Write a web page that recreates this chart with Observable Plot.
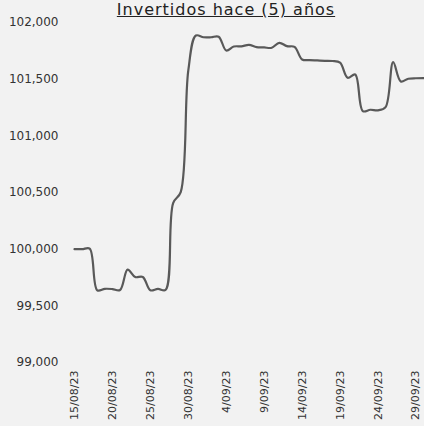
<!DOCTYPE html>
<html><head><meta charset="utf-8">
<script src="https://cdn.jsdelivr.net/npm/d3@7"></script>
<script src="https://cdn.jsdelivr.net/npm/@observablehq/plot@0.6"></script>
<style>
html,body{margin:0;padding:0;background:#f2f2f2;overflow:hidden;}
#wrap{position:relative;width:424px;height:426px;}
#title{position:absolute;top:1px;left:0;width:424px;font-family:"DejaVu Sans",sans-serif;font-size:16px;line-height:18px;letter-spacing:1px;text-align:center;text-decoration:underline;color:#222;padding-left:28px;box-sizing:border-box;white-space:nowrap;}
</style></head>
<body>
<div id="wrap">
<div id="chart"></div>
<div id="title">Invertidos hace (5) años</div>
</div>
<script>
const dates = ["2023-08-15","2023-08-16","2023-08-17","2023-08-18","2023-08-19","2023-08-20","2023-08-21","2023-08-22","2023-08-23","2023-08-24","2023-08-25","2023-08-26","2023-08-27","2023-08-28","2023-08-29","2023-08-30","2023-08-31","2023-09-01","2023-09-02","2023-09-03","2023-09-04","2023-09-05","2023-09-06","2023-09-07","2023-09-08","2023-09-09","2023-09-10","2023-09-11","2023-09-12","2023-09-13","2023-09-14","2023-09-15","2023-09-16","2023-09-17","2023-09-18","2023-09-19","2023-09-20","2023-09-21","2023-09-22","2023-09-23","2023-09-24","2023-09-25","2023-09-26","2023-09-27","2023-09-28","2023-09-29","2023-09-30"];
const values = [100000,100000,100005,99637,99650,99648,99640,99819,99754,99755,99637,99650,99640,100407,100504,101577,101885,101870,101870,101875,101753,101788,101790,101803,101782,101780,101777,101821,101791,101785,101674,101668,101665,101662,101660,101645,101512,101541,101218,101230,101225,101253,101650,101480,101504,101508,101509];
const xTicks = ["2023-08-15","2023-08-20","2023-08-25","2023-08-30","2023-09-04","2023-09-09","2023-09-14","2023-09-19","2023-09-24","2023-09-29"];
const yTicks = [99000,99500,100000,100500,101000,101500,102000];

const data = dates.map((d,i)=>({date:new Date(d), value:values[i]}));
const fmtDate = d => `${d.getUTCDate()}/${String(d.getUTCMonth()+1).padStart(2,"0")}/${String(d.getUTCFullYear()).slice(2)}`;
const fmtNum = v => d3.format(",")(v);

const chart = Plot.plot({
  width: 424,
  height: 426,
  marginTop: 22,
  marginBottom: 64,
  marginLeft: 74,
  marginRight: 1,
  style: {background:"#f2f2f2", fontFamily:"DejaVu Sans, sans-serif", fontSize:"11px", color:"#333"},
  x: {type:"utc", domain:[new Date(dates[0]), new Date(dates[dates.length-1])]},
  y: {domain:[99000,102000]},
  marks: [
    Plot.axisY({ticks:yTicks, tickFormat:fmtNum, tickSize:0, tickPadding:16, label:null, fontSize:12}),
    Plot.axisX({ticks:xTicks.map(d=>new Date(d)), tickFormat:fmtDate, tickSize:0, tickPadding:8, tickRotate:-90, label:null, fontSize:11}),
    Plot.line(data, {x:"date", y:"value", stroke:"#595959", strokeWidth:2.2, curve:"catmull-rom"})
  ]
});
document.getElementById("chart").appendChild(chart);
</script>
</body></html>
